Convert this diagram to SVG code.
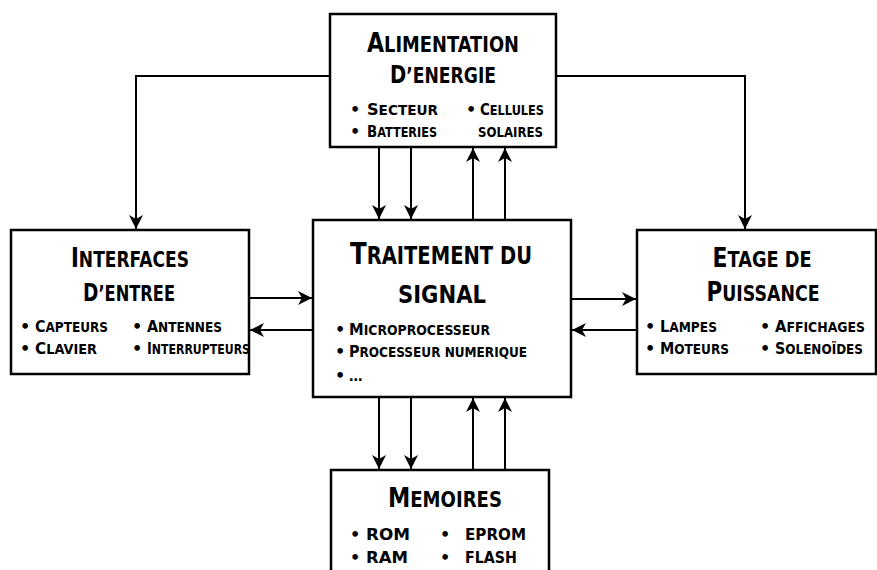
<svg xmlns="http://www.w3.org/2000/svg" width="877" height="570" viewBox="0 0 877 570">
<defs>
<marker id="ah" markerUnits="userSpaceOnUse" markerWidth="15" markerHeight="14" refX="14" refY="7" orient="auto">
<path d="M0,0 L14,7 L0,14 L4,7 Z" fill="#000"/>
</marker>
<style>
.box{fill:#fff;stroke:#000;stroke-width:2.5}
.ln{fill:none;stroke:#000;stroke-width:2;marker-end:url(#ah)}
text{font-family:"DejaVu Sans","Liberation Sans",sans-serif;font-weight:bold;fill:#000}
.t{font-size:21px;text-anchor:middle}
.tc{font-size:24px;text-anchor:middle}
.b{font-size:13.5px}
.bu{font-size:16px}
</style>
</defs>
<rect width="877" height="570" fill="#fff"/>
<g id="connectors">
<path class="ln" d="M330,76 H136 V229"/>
<path class="ln" d="M556,76 H745 V229"/>
<path class="ln" d="M379,147 V219"/>
<path class="ln" d="M411,147 V219"/>
<path class="ln" d="M473,220 V148"/>
<path class="ln" d="M505,220 V148"/>
<path class="ln" d="M379,397 V469"/>
<path class="ln" d="M411,397 V469"/>
<path class="ln" d="M473,470 V398"/>
<path class="ln" d="M505,470 V398"/>
<path class="ln" d="M249,298 H312"/>
<path class="ln" d="M313,330 H250"/>
<path class="ln" d="M571,299 H636"/>
<path class="ln" d="M637,330 H572"/>
</g>
<g id="alimentation">
<rect class="box" x="330" y="14" width="226" height="133"/>
<text class="t" x="443" y="52" textLength="152" lengthAdjust="spacingAndGlyphs"><tspan font-size="26">A</tspan>LIMENTATION</text>
<text class="t" x="443" y="83" textLength="106" lengthAdjust="spacingAndGlyphs"><tspan font-size="24">D</tspan>’ENERGIE</text>
<text class="bu" x="350" y="115">•</text>
<text class="b" x="367" y="115" textLength="71" lengthAdjust="spacingAndGlyphs"><tspan font-size="16">S</tspan>ECTEUR</text>
<text class="bu" x="350" y="137">•</text>
<text class="b" x="367" y="137" textLength="70" lengthAdjust="spacingAndGlyphs"><tspan font-size="16">B</tspan>ATTERIES</text>
<text class="bu" x="466" y="115">•</text>
<text class="b" x="480" y="115" textLength="64" lengthAdjust="spacingAndGlyphs"><tspan font-size="16">C</tspan>ELLULES</text>
<text class="b" x="478" y="137" textLength="65" lengthAdjust="spacingAndGlyphs">SOLAIRES</text>
</g>
<g id="interfaces">
<rect class="box" x="11" y="230" width="238" height="144"/>
<text class="t" x="130" y="267" textLength="118" lengthAdjust="spacingAndGlyphs"><tspan font-size="26">I</tspan>NTERFACES</text>
<text class="t" x="129" y="301" textLength="92" lengthAdjust="spacingAndGlyphs"><tspan font-size="24">D</tspan>’ENTREE</text>
<text class="bu" x="20" y="332">•</text>
<text class="b" x="35" y="332" textLength="73" lengthAdjust="spacingAndGlyphs"><tspan font-size="16">C</tspan>APTEURS</text>
<text class="bu" x="20" y="354">•</text>
<text class="b" x="35" y="354" textLength="62" lengthAdjust="spacingAndGlyphs"><tspan font-size="16">C</tspan>LAVIER</text>
<text class="bu" x="132" y="332">•</text>
<text class="b" x="147" y="332" textLength="75" lengthAdjust="spacingAndGlyphs"><tspan font-size="16">A</tspan>NTENNES</text>
<text class="bu" x="132" y="354">•</text>
<text class="b" x="147" y="354" textLength="103" lengthAdjust="spacingAndGlyphs"><tspan font-size="16">I</tspan>NTERRUPTEURS</text>
</g>
<g id="traitement">
<rect class="box" x="313" y="220" width="258" height="177"/>
<text class="tc" x="441" y="264" textLength="182" lengthAdjust="spacingAndGlyphs"><tspan font-size="30">T</tspan>RAITEMENT DU</text>
<text class="tc" x="442" y="303" textLength="88" lengthAdjust="spacingAndGlyphs">SIGNAL</text>
<text class="bu" x="335" y="335">•</text>
<text class="b" x="349" y="335" textLength="141" lengthAdjust="spacingAndGlyphs"><tspan font-size="16">M</tspan>ICROPROCESSEUR</text>
<text class="bu" x="335" y="357">•</text>
<text class="b" x="349" y="357" textLength="178" lengthAdjust="spacingAndGlyphs"><tspan font-size="16">P</tspan>ROCESSEUR NUMERIQUE</text>
<text class="bu" x="335" y="381">•</text>
<text class="b" x="349" y="381">…</text>
</g>
<g id="etage">
<rect class="box" x="637" y="230" width="239" height="144"/>
<text class="t" x="762" y="267" textLength="99" lengthAdjust="spacingAndGlyphs"><tspan font-size="26">E</tspan>TAGE DE</text>
<text class="t" x="763" y="301" textLength="113" lengthAdjust="spacingAndGlyphs"><tspan font-size="26">P</tspan>UISSANCE</text>
<text class="bu" x="645" y="332">•</text>
<text class="b" x="660" y="332" textLength="57" lengthAdjust="spacingAndGlyphs"><tspan font-size="16">L</tspan>AMPES</text>
<text class="bu" x="645" y="354">•</text>
<text class="b" x="660" y="354" textLength="69" lengthAdjust="spacingAndGlyphs"><tspan font-size="16">M</tspan>OTEURS</text>
<text class="bu" x="760" y="332">•</text>
<text class="b" x="775" y="332" textLength="90" lengthAdjust="spacingAndGlyphs"><tspan font-size="16">A</tspan>FFICHAGES</text>
<text class="bu" x="760" y="354">•</text>
<text class="b" x="775" y="354" textLength="88" lengthAdjust="spacingAndGlyphs"><tspan font-size="16">S</tspan>OLENOÏDES</text>
</g>
<g id="memoires">
<rect class="box" x="331" y="470" width="218" height="110"/>
<text class="t" x="445" y="507" textLength="114" lengthAdjust="spacingAndGlyphs"><tspan font-size="26">M</tspan>EMOIRES</text>
<text class="bu" x="350" y="540">•</text>
<text class="bu" x="366" y="540" textLength="44" lengthAdjust="spacingAndGlyphs">ROM</text>
<text class="bu" x="350" y="563">•</text>
<text class="bu" x="366" y="563" textLength="42" lengthAdjust="spacingAndGlyphs">RAM</text>
<text class="bu" x="440" y="540">•</text>
<text class="bu" x="465" y="540" textLength="61" lengthAdjust="spacingAndGlyphs">EPROM</text>
<text class="bu" x="440" y="563">•</text>
<text class="bu" x="465" y="563" textLength="52" lengthAdjust="spacingAndGlyphs">FLASH</text>
</g>
</svg>
